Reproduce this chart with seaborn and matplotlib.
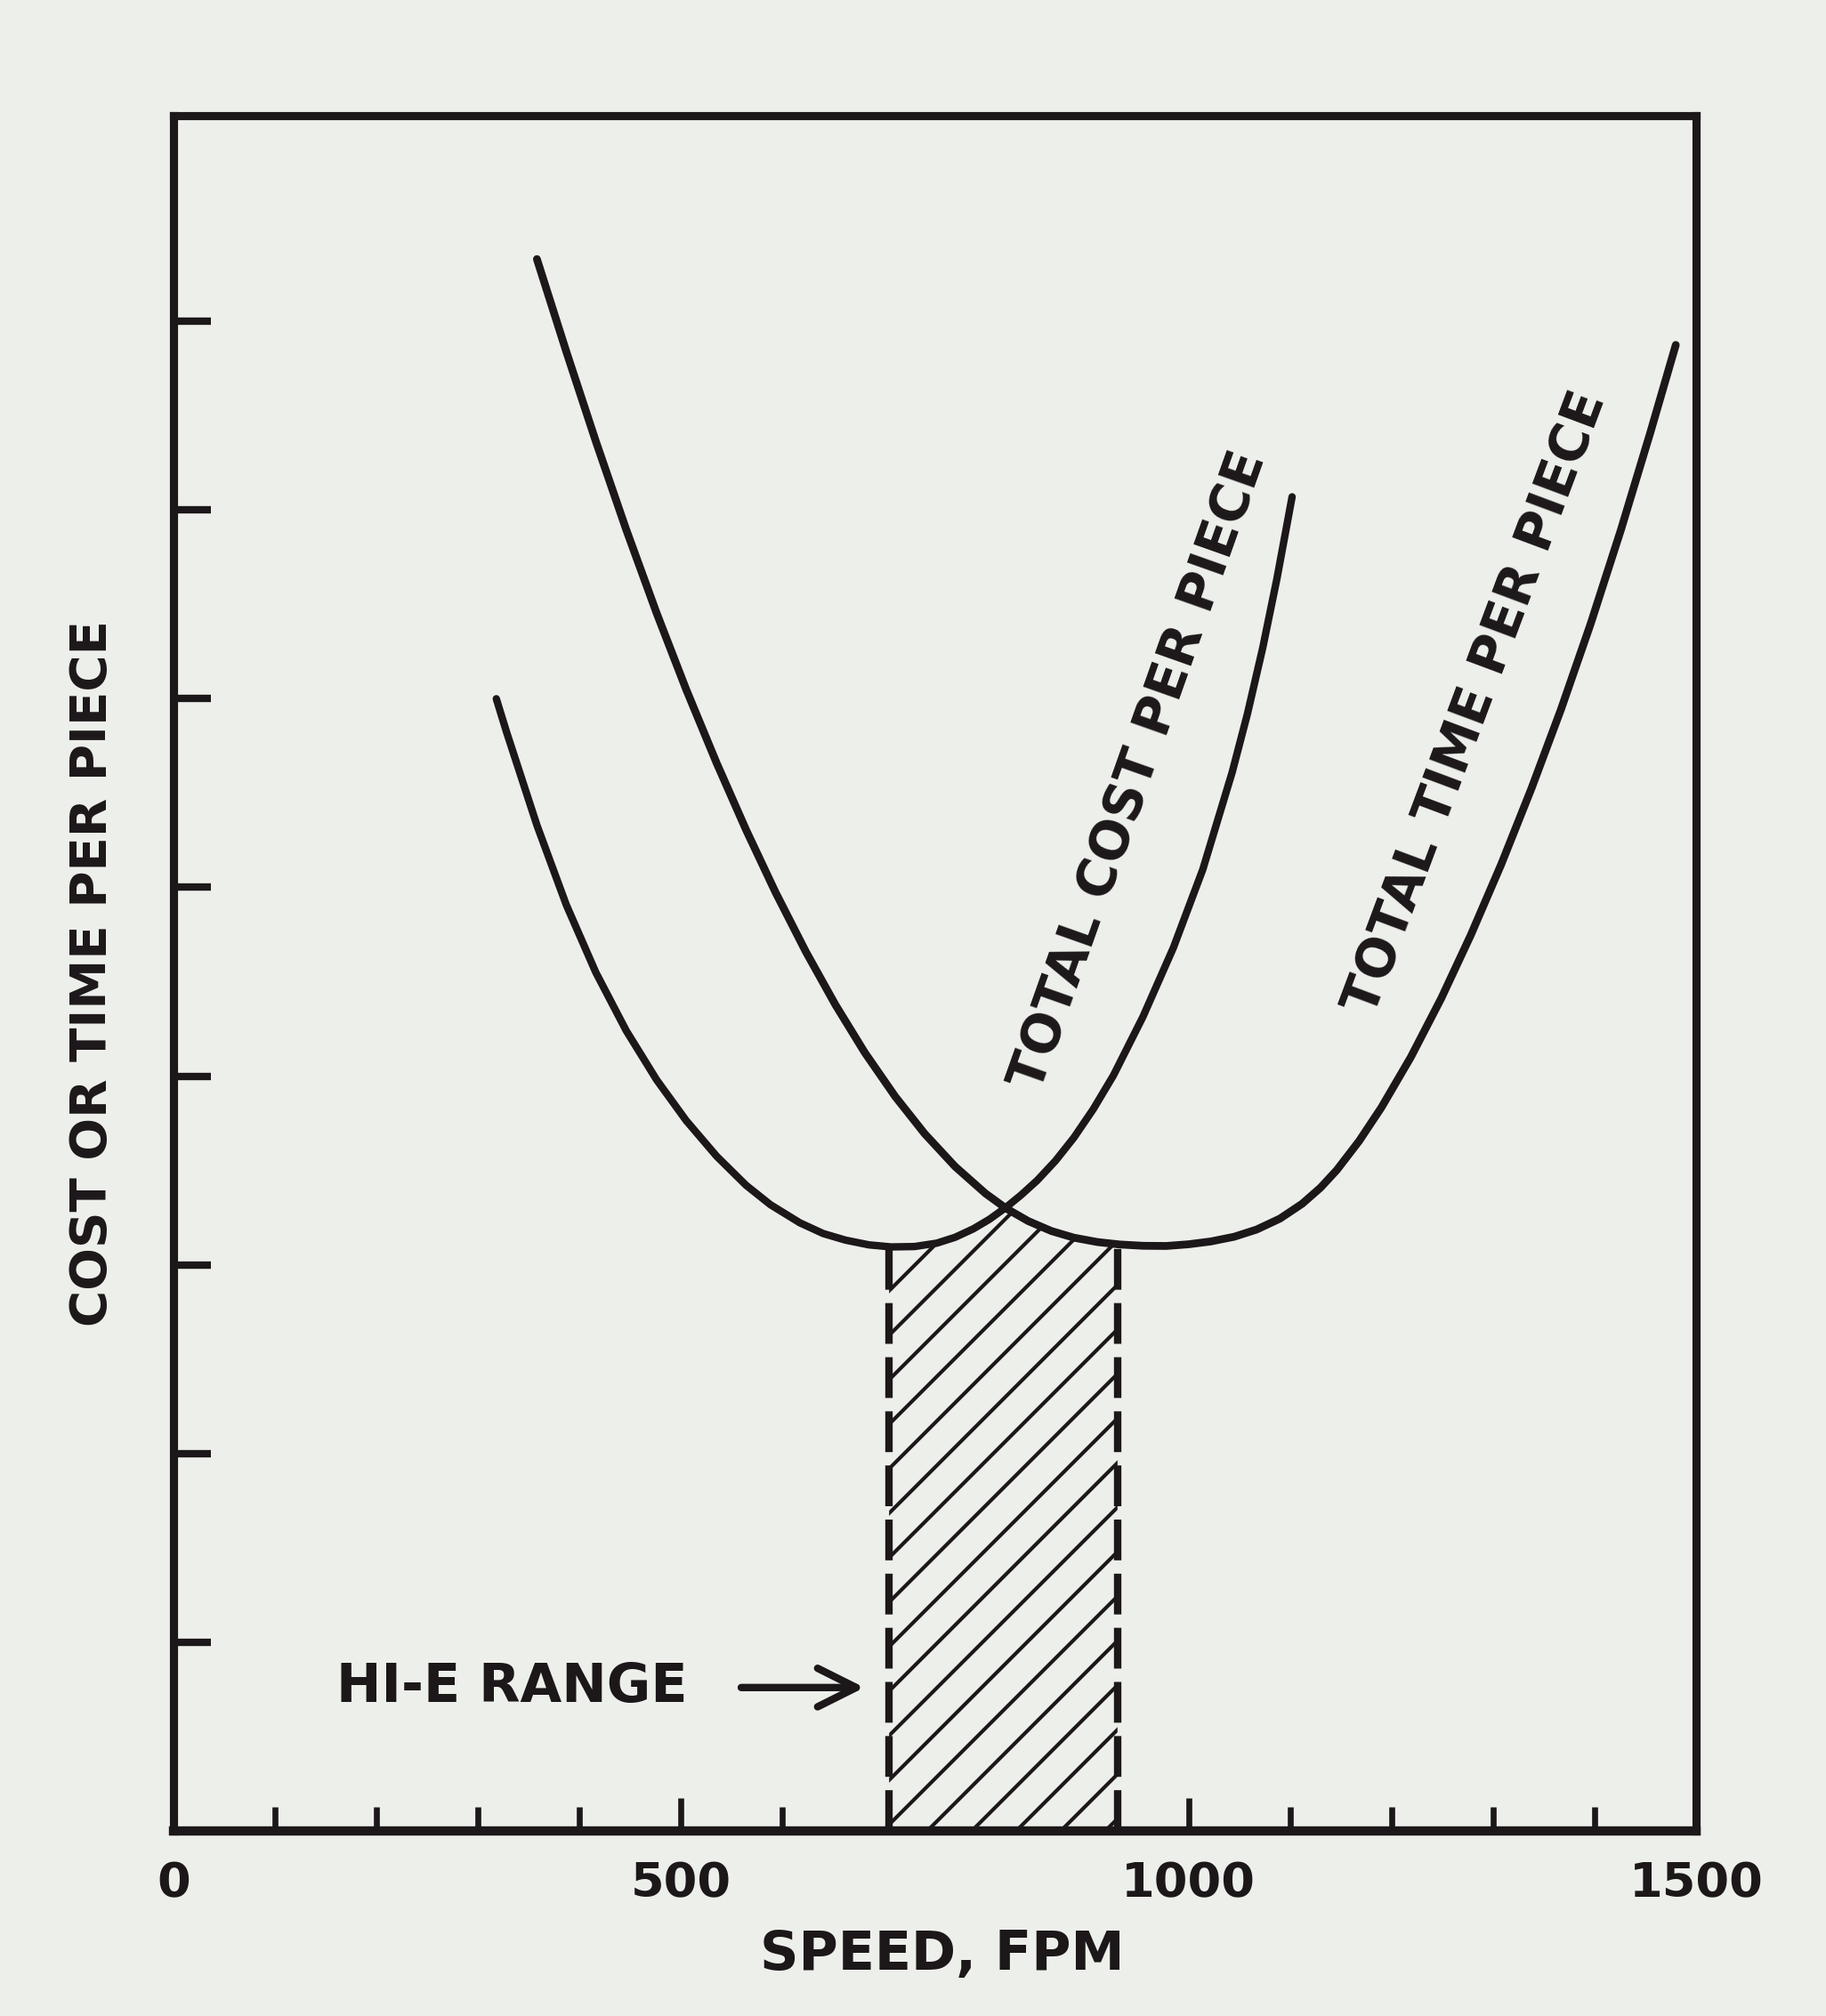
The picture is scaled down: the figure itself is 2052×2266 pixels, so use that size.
import numpy as np
import pandas as pd
import matplotlib.pyplot as plt
import seaborn as sns

# ---------------------
# Data (speed in FPM, y in tick units)
# ---------------------
cost_speed = [318, 328, 358, 387, 416, 446, 476, 505, 535, 564, 588, 617, 640,
              662, 685, 707, 730, 752, 770, 788, 804, 820, 835, 851, 869, 887,
              906, 926, 955, 985, 1014, 1043, 1058, 1073, 1087, 1102]
cost_value = [6.000, 5.825, 5.330, 4.907, 4.550, 4.241, 3.980, 3.765, 3.576,
              3.422, 3.319, 3.223, 3.166, 3.131, 3.106, 3.095, 3.097, 3.115,
              3.146, 3.191, 3.242, 3.304, 3.370, 3.448, 3.552, 3.674, 3.824,
              4.004, 4.314, 4.680, 5.095, 5.611, 5.920, 6.268, 6.635, 7.070]

time_speed = [358, 387, 416, 446, 476, 505, 535, 564, 593, 623, 652, 681, 711,
              740, 770, 800, 820, 842, 865, 887, 910, 932, 955, 978, 1000, 1022,
              1045, 1067, 1090, 1112, 1130, 1146, 1168, 1190, 1219, 1249, 1278,
              1308, 1338, 1367, 1396, 1426, 1455, 1480]
time_value = [8.330, 7.839, 7.365, 6.896, 6.453, 6.050, 5.660, 5.306, 4.975,
              4.659, 4.379, 4.125, 3.892, 3.695, 3.521, 3.378, 3.300, 3.232,
              3.179, 3.144, 3.121, 3.108, 3.101, 3.100, 3.109, 3.124, 3.149,
              3.187, 3.245, 3.324, 3.409, 3.502, 3.656, 3.834, 4.101, 4.413,
              4.747, 5.122, 5.527, 5.945, 6.395, 6.896, 7.412, 7.875]

# Hi-E range: lower envelope of the two curves between the dashed lines
hatch_speed = [705, 730, 752, 770, 788, 804, 820, 842, 865, 887, 910, 930]
hatch_top = [3.095, 3.097, 3.115, 3.146, 3.191, 3.242, 3.302, 3.232, 3.179,
             3.144, 3.121, 3.109]

x_major = [0, 500, 1000, 1500]
x_major_labels = ["0", "500", "1000", "1500"]
x_minor = [100, 200, 300, 400, 600, 1100, 1200, 1300, 1400]
y_ticks = [1, 2, 3, 4, 5, 6, 7, 8]

# ---------------------
# Style
# ---------------------
ink = "#1c1719"
paper = "#edefeb"

sns.set_theme(style="ticks")
plt.rcParams["font.family"] = ["DejaVu Sans"]
plt.rcParams["hatch.linewidth"] = 1.0
plt.rcParams["hatch.color"] = ink

W, H, DPI = 2052, 2266, 300
fig = plt.figure(figsize=(W / DPI, H / DPI), dpi=DPI, facecolor=paper)
ax = fig.add_axes([195 / W, (H - 2058) / H, (1906 - 195) / W, (2058 - 130) / H])
ax.set_facecolor(paper)

df_cost = pd.DataFrame({"speed": cost_speed, "value": cost_value})
df_time = pd.DataFrame({"speed": time_speed, "value": time_value})

line_kw = dict(color=ink, estimator=None, sort=False,
               solid_capstyle="round", solid_joinstyle="round")
sns.lineplot(data=df_cost, x="speed", y="value", ax=ax, linewidth=2.0, **line_kw)
sns.lineplot(data=df_time, x="speed", y="value", ax=ax, linewidth=2.1, **line_kw)

# hatched Hi-E range
ax.fill_between(hatch_speed, 0, hatch_top, facecolor="none", edgecolor=ink,
                hatch="//", linewidth=0)
for xs, top in [(hatch_speed[0], hatch_top[0]), (hatch_speed[-1], hatch_top[-1])]:
    ax.plot([xs, xs], [0, top], color=ink, linewidth=2.0, dashes=(5.5, 1.8))

# labels on the curves
font = dict(fontweight="bold", color=ink)
ax.text(951, 5.62, "TOTAL COST PER PIECE", rotation=70.5, rotation_mode="anchor",
        ha="center", va="center", fontsize=14, **font)
ax.text(1283, 5.98, "TOTAL TIME PER PIECE", rotation=69.5, rotation_mode="anchor",
        ha="center", va="center", fontsize=14, **font)

ax.text(333, 0.76, "HI-E RANGE", ha="center", va="center", fontsize=14.5, **font)
ax.annotate("", xy=(688, 0.76), xytext=(552, 0.76),
            arrowprops=dict(arrowstyle="->", lw=2.0, color=ink, mutation_scale=26))

# ---------------------
# Axes
# ---------------------
ax.set_xlim(0, 1500)
ax.set_ylim(0, 9.09)

ax.set_xticks(x_major)
ax.set_xticklabels(x_major_labels)
ax.set_xticks(x_minor, minor=True)
ax.set_yticks(y_ticks)
ax.set_yticklabels([])

ax.tick_params(axis="x", which="major", direction="in", length=9, width=1.6,
               color=ink, labelcolor=ink, labelsize=13, pad=8)
ax.tick_params(axis="x", which="minor", direction="in", length=6.5, width=1.6,
               color=ink)
ax.tick_params(axis="y", direction="in", length=10, width=2.0, color=ink)
for lab in ax.get_xticklabels():
    lab.set_fontweight("bold")

for side in ["left", "right", "top", "bottom"]:
    ax.spines[side].set_visible(True)
    ax.spines[side].set_color(ink)
    ax.spines[side].set_linewidth(2.2)
ax.spines["bottom"].set_linewidth(2.5)

ax.set_xlabel("SPEED, FPM", fontsize=14.5, fontweight="bold", color=ink, va="top")
ax.xaxis.set_label_coords(0.505, -0.057)
ax.set_ylabel("COST OR TIME PER PIECE", fontsize=13.5, fontweight="bold",
              color=ink, va="center")
ax.yaxis.set_label_coords(-0.053, 0.5)

fig.savefig("out.png", dpi=DPI, facecolor=paper)
